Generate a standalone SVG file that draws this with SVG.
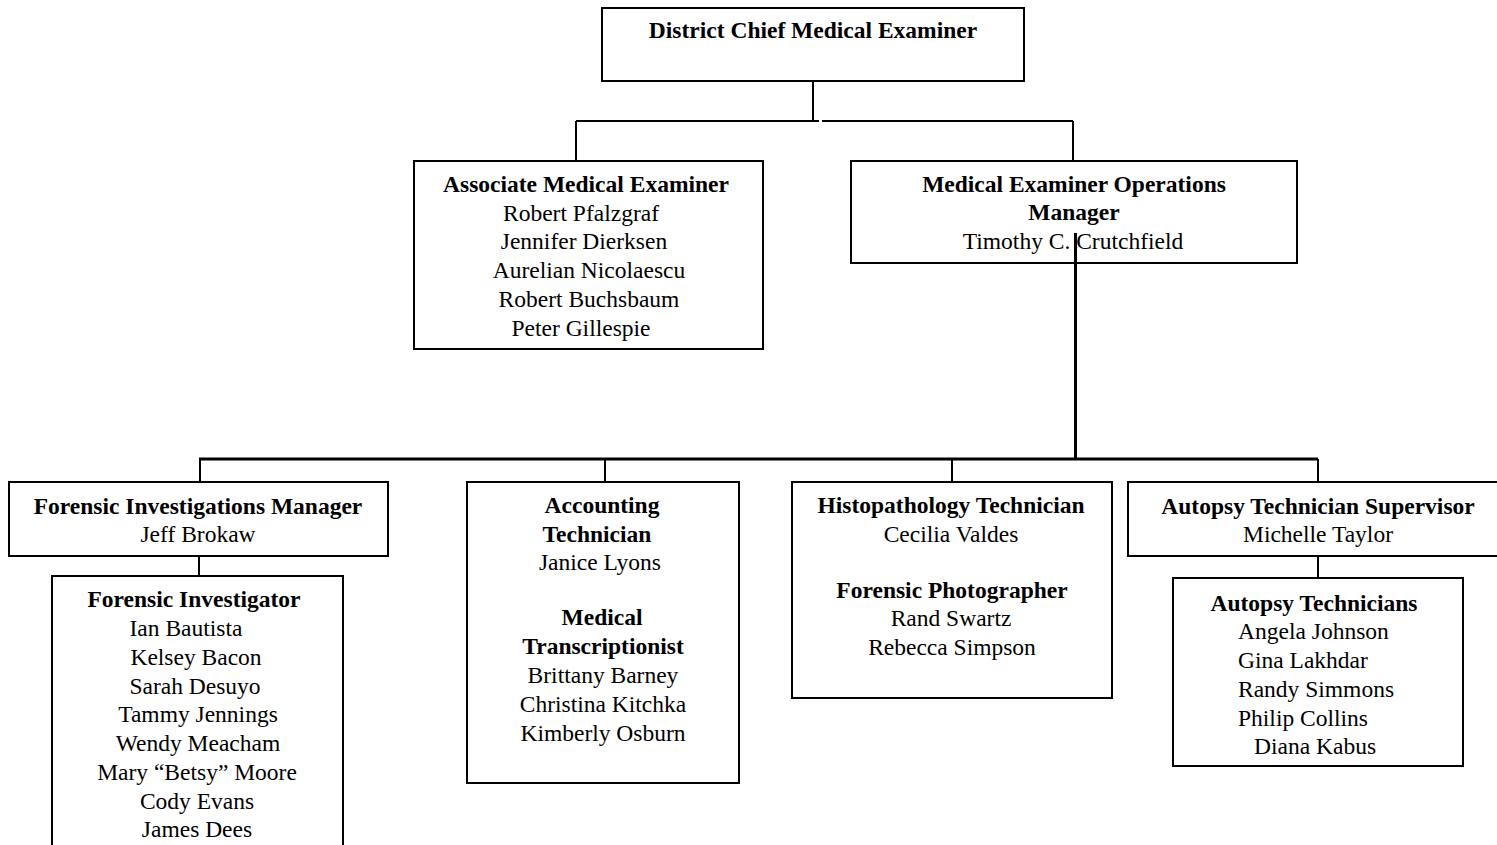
<svg xmlns="http://www.w3.org/2000/svg" width="1497" height="845" viewBox="0 0 1497 845">
<style>
.box{fill:none;stroke:#000;stroke-width:2}
.ln{stroke:#000;stroke-width:2;fill:none}
.lnb{stroke:#000;stroke-width:3;fill:none}
text{font-family:"Liberation Serif","Times New Roman",serif;font-size:23.5px;fill:#000;text-anchor:middle}
.b{font-weight:bold}
.s{text-anchor:start}
</style>
<rect width="1497" height="845" fill="#fff"/>
<g id="connectors">
<path class="ln" d="M813,81 V121 M576,121 H819 M822,121 H1073 M576,121 V161 M1073,121 V161"/>
<path class="lnb" d="M1075.5,233 V459 M199,459 H1318"/>
<path class="ln" d="M200,459 V482 M605,459 V482 M952,459 V482 M1318,459 V482 M199,556 V576 M1318,556 V578"/>
</g>
<g id="chief">
<rect class="box" x="602" y="8" width="422" height="73"/>
<text class="b" x="813" y="38">District Chief Medical Examiner</text>
</g>
<g id="associate">
<rect class="box" x="414" y="161" width="349" height="188"/>
<text class="b" x="586" y="192">Associate Medical Examiner</text>
<text x="581" y="221">Robert Pfalzgraf</text>
<text x="584" y="249">Jennifer Dierksen</text>
<text x="589" y="278">Aurelian Nicolaescu</text>
<text x="589" y="307">Robert Buchsbaum</text>
<text x="581" y="336">Peter Gillespie</text>
</g>
<g id="operations">
<rect class="box" x="851" y="161" width="446" height="102"/>
<text class="b" x="1074" y="192">Medical Examiner Operations</text>
<text class="b" x="1074" y="220">Manager</text>
<text x="1073" y="249">Timothy C. Crutchfield</text>
</g>
<g id="fim">
<rect class="box" x="9" y="482" width="379" height="74"/>
<text class="b" x="198" y="514">Forensic Investigations Manager</text>
<text x="198" y="542">Jeff Brokaw</text>
</g>
<g id="fi">
<rect class="box" x="52" y="576" width="291" height="280"/>
<text class="b" x="194" y="607">Forensic Investigator</text>
<text x="186" y="636">Ian Bautista</text>
<text x="196" y="665">Kelsey Bacon</text>
<text x="195" y="694">Sarah Desuyo</text>
<text x="198" y="722">Tammy Jennings</text>
<text x="198" y="751">Wendy Meacham</text>
<text x="197" y="780">Mary “Betsy” Moore</text>
<text x="197" y="809">Cody Evans</text>
<text x="197" y="837">James Dees</text>
</g>
<g id="accounting">
<rect class="box" x="467" y="482" width="272" height="301"/>
<text class="b" x="602" y="513">Accounting</text>
<text class="b" x="597" y="542">Technician</text>
<text x="600" y="570">Janice Lyons</text>
<text class="b" x="602" y="625">Medical</text>
<text class="b" x="603" y="654">Transcriptionist</text>
<text x="603" y="683">Brittany Barney</text>
<text x="603" y="712">Christina Kitchka</text>
<text x="603" y="741">Kimberly Osburn</text>
</g>
<g id="histo">
<rect class="box" x="792" y="482" width="320" height="216"/>
<text class="b" x="951" y="513">Histopathology Technician</text>
<text x="951" y="542">Cecilia Valdes</text>
<text class="b" x="952" y="598">Forensic Photographer</text>
<text x="951" y="626">Rand Swartz</text>
<text x="952" y="655">Rebecca Simpson</text>
</g>
<g id="autopsy-supervisor">
<rect class="box" x="1128" y="482" width="380" height="74"/>
<text class="b" x="1318" y="514">Autopsy Technician Supervisor</text>
<text x="1318" y="542">Michelle Taylor</text>
</g>
<g id="autopsy-techs">
<rect class="box" x="1173" y="578" width="290" height="188"/>
<text class="b" x="1314" y="611">Autopsy Technicians</text>
<text class="s" x="1238" y="639">Angela Johnson</text>
<text class="s" x="1238" y="668">Gina Lakhdar</text>
<text class="s" x="1238" y="697">Randy Simmons</text>
<text class="s" x="1238" y="726">Philip Collins</text>
<text class="s" x="1254" y="754">Diana Kabus</text>
</g>
</svg>
